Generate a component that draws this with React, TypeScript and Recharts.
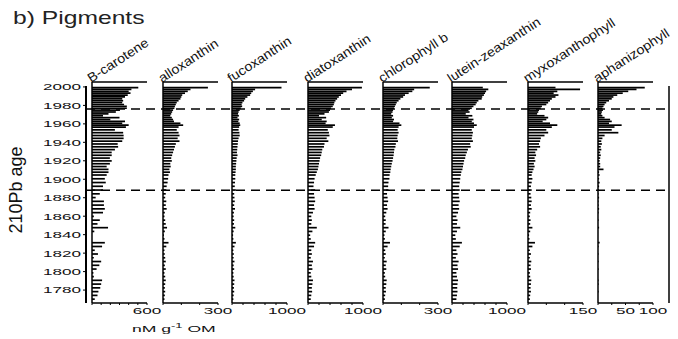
import React from "react";
import { BarChart, Bar, ComposedChart, XAxis, YAxis, ReferenceLine } from "recharts";

// sample ages (210Pb years), top of core first
const years = [
  1995, 1993, 1991, 1989, 1987, 1985, 1983, 1981, 1979, 1977, 1975, 1973, 1971, 1969, 1967, 1965, 1963, 1961, 1959, 1957, 1955, 1953,
  1950, 1947, 1944, 1941, 1938, 1935, 1932, 1929, 1926, 1923, 1920, 1917, 1914, 1911, 1908, 1905, 1902,
  1898, 1894, 1890, 1886, 1882, 1878, 1874, 1870, 1866, 1862, 1858, 1854, 1850, 1846, 1842, 1838, 1834, 1830, 1826, 1822, 1818, 1814, 1810, 1806, 1802, 1798, 1794, 1790, 1786, 1782, 1778, 1774, 1770,
];

// pigment concentrations, nM g-1 OM
const betaCarotene = [
  505, 430, 400, 420, 390, 360, 330, 340, 330, 350, 380, 380, 305, 260, 180, 120, 300, 200, 360, 330, 400, 370,
  250, 340, 345, 345, 330, 280, 285, 250, 215, 215, 195, 215, 195, 160, 180, 180, 160,
  140, 150, 120, 120, 85, 40, 130, 130, 140, 120, 20, 85, 60, 175, 25, 0, 0, 140, 110, 30, 65, 20, 100, 80, 50, 15, 20, 110, 100, 90, 70, 60, 30,
];
const alloxanthin = [
  245, 150, 135, 120, 105, 100, 95, 85, 75, 70, 65, 62, 55, 50, 45, 40, 48, 55, 60, 95, 110, 85,
  75, 85, 90, 80, 90, 70, 65, 60, 55, 50, 45, 48, 40, 42, 35, 38, 30,
  28, 25, 20, 18, 15, 12, 18, 15, 20, 10, 8, 12, 15, 22, 10, 5, 8, 30, 18, 8, 10, 12, 15, 10, 15, 8, 12, 15, 12, 10, 12, 10, 8,
];
const fucoxanthin = [
  900, 420, 380, 350, 330, 280, 240, 220, 190, 175, 185, 160, 140, 120, 110, 125, 100, 130, 115, 140, 150, 130,
  120, 135, 140, 120, 110, 105, 100, 95, 90, 100, 85, 80, 75, 70, 70, 65, 60,
  60, 55, 50, 70, 40, 45, 50, 40, 55, 35, 30, 40, 35, 60, 30, 20, 25, 70, 45, 25, 35, 30, 45, 30, 40, 25, 30, 45, 40, 35, 40, 30, 25,
];
const diatoxanthin = [
  980, 800, 700, 640, 600, 560, 530, 500, 480, 470, 450, 420, 400, 380, 300, 200, 330, 250, 340, 320, 490, 450,
  360, 380, 390, 340, 370, 300, 290, 260, 250, 240, 220, 210, 200, 190, 180, 160, 140,
  120, 110, 100, 130, 110, 120, 130, 110, 120, 90, 60, 70, 60, 160, 80, 40, 50, 130, 110, 60, 70, 50, 90, 70, 80, 50, 60, 90, 80, 70, 75, 60, 50,
];
const chlorophyllB = [
  255, 170, 160, 140, 120, 110, 95, 85, 75, 70, 65, 60, 55, 52, 45, 55, 48, 60, 55, 90, 100, 85,
  80, 85, 80, 78, 82, 70, 68, 62, 60, 58, 55, 52, 48, 45, 42, 40, 36,
  35, 30, 28, 30, 22, 25, 28, 22, 25, 18, 12, 15, 14, 30, 15, 8, 10, 38, 25, 12, 15, 10, 20, 15, 18, 10, 12, 20, 18, 15, 16, 12, 10,
];
const luteinZeaxanthin = [
  560, 660, 620, 600, 580, 550, 540, 480, 450, 430, 390, 360, 300, 320, 250, 370, 300, 390, 360, 400, 450, 400,
  360, 380, 370, 360, 380, 330, 340, 290, 270, 250, 240, 220, 210, 200, 190, 170, 160,
  150, 140, 130, 140, 120, 130, 140, 120, 130, 110, 80, 100, 90, 150, 90, 60, 70, 180, 140, 80, 100, 70, 120, 100, 110, 80, 90, 110, 100, 95, 100, 90, 80,
];
const myxoxanthophyll = [
  75, 142, 80, 70, 83, 75, 65, 60, 55, 50, 38, 35, 30, 28, 25, 45, 55, 50, 40, 60, 80, 65,
  50, 55, 45, 35, 33, 30, 33, 25, 20, 22, 18, 20, 16, 18, 15, 12, 10,
  12, 10, 8, 10, 7, 9, 10, 8, 10, 6, 5, 7, 6, 12, 6, 3, 4, 19, 12, 5, 8, 5, 9, 7, 8, 5, 6, 9, 8, 7, 8, 6, 5,
];
const aphanizophyll = [
  85, 70, 55, 45, 35, 28, 25, 20, 15, 12, 10, 8, 9, 7, 6, 8, 12, 22, 25, 20, 43, 30,
  25, 37, 12, 8, 6, 7, 5, 6, 4, 5, 4, 3, 4, 4, 10, 2, 3,
  2, 3, 2, 2, 1, 2, 1, 1, 2, 1, 0, 1, 0, 2, 0, 0, 0, 3, 1, 0, 1, 0, 1, 0, 1, 0, 0, 1, 1, 0, 1, 0, 0,
];

const pigmentNames = ["B-carotene", "alloxanthin", "fucoxanthin", "diatoxanthin", "chlorophyll b", "lutein-zeaxanthin", "myxoxanthophyll", "aphanizophyll"];
const pigmentKeys = ["bcar", "allo", "fuco", "diato", "chlb", "lutz", "myxo", "aphan"];
const axisMax = [600, 300, 1000, 1000, 300, 1000, 150, 100];
const tickStep = [100, 100, 200, 200, 100, 200, 50, 25];
const axisLabels = [[600], [300], [1000], [1000], [300], [1000], [150], [50, 100]];
const yearTicks = [1780, 1800, 1820, 1840, 1860, 1880, 1900, 1920, 1940, 1960, 1980, 2000];
const markerYears = [1976, 1888];

// layout
const panelLeft = [92, 163, 232, 308, 383, 452, 528, 598];
const PANEL_W = 55;
const PLOT_TOP = 86;
const PLOT_BOTTOM = 303;
const AGE_DOMAIN: [number, number] = [1766, 2001];
const FONT = "'Liberation Sans', Arial, sans-serif";

const series = [betaCarotene, alloxanthin, fucoxanthin, diatoxanthin, chlorophyllB, luteinZeaxanthin, myxoxanthophyll, aphanizophyll];
const rows = years.map((year, i) => {
  const row: any = { year };
  pigmentKeys.forEach((k, p) => (row[k] = series[p][i]));
  return row;
});

function YearTick(props: any) {
  const { x, y, payload } = props;
  return (
    <text transform={`translate(${x},${y}) scale(1.8,1)`} textAnchor="end" dy="0.36em" fontSize={9.5} fontFamily={FONT} fill="#111">
      {payload.value}
    </text>
  );
}

const emptyTick = () => <g />;

function bottomTick(labels: number[]) {
  return (props: any) => {
    const { x, y, payload } = props;
    if (!labels.includes(payload.value)) return <g />;
    return (
      <text transform={`translate(${x},${y}) scale(1.8,1)`} textAnchor="middle" dy="0.71em" fontSize={9.5} fontFamily={FONT} fill="#111">
        {payload.value}
      </text>
    );
  };
}

function PigmentPanel({ index }: { index: number }) {
  const max = axisMax[index];
  const ticks: number[] = [];
  for (let v = 0; v <= max; v += tickStep[index]) ticks.push(v);
  const line = { stroke: "#000", strokeWidth: 1.5 };
  return (
    <div style={{ position: "absolute", left: panelLeft[index] - 12, top: 0 }}>
      <BarChart
        width={12 + PANEL_W + 20}
        height={339}
        data={rows}
        layout="vertical"
        margin={{ top: PLOT_TOP - 4, right: 20, bottom: 339 - PLOT_BOTTOM - 20, left: 11 }}
      >
        <XAxis xAxisId="top" orientation="top" type="number" domain={[0, max]} ticks={ticks} interval={0} height={4} mirror tickSize={2} tick={emptyTick} axisLine={line} tickLine={{ stroke: "#000" }} />
        <XAxis xAxisId="bottom" orientation="bottom" type="number" domain={[0, max]} ticks={ticks} interval={0} height={20} tickSize={2} tickMargin={2} tick={bottomTick(axisLabels[index])} axisLine={line} tickLine={{ stroke: "#000" }} />
        <YAxis type="number" dataKey="year" domain={AGE_DOMAIN} reversed width={1} tick={false} tickLine={false} axisLine={line} />
        <Bar xAxisId="bottom" dataKey={pigmentKeys[index]} fill="#000" barSize={2} isAnimationActive={false} />
      </BarChart>
    </div>
  );
}

export default function App() {
  return (
    <div style={{ position: "absolute", left: 0, top: 0, width: 678, height: 339, background: "#fff", overflow: "hidden" }}>
      <div style={{ position: "absolute", left: 0, top: 0 }}>
        <ComposedChart width={678} height={339} data={rows} margin={{ top: PLOT_TOP, right: 5, bottom: 339 - PLOT_BOTTOM, left: 40 }}>
          <XAxis type="number" hide domain={[0, 1]} />
          <YAxis
            yAxisId="l"
            type="number"
            dataKey="year"
            domain={AGE_DOMAIN}
            ticks={yearTicks}
            interval={0}
            width={46}
            tickSize={3}
            tick={<YearTick />}
            axisLine={{ stroke: "#000", strokeWidth: 2 }}
            tickLine={{ stroke: "#000" }}
          />
          <YAxis yAxisId="r" orientation="right" type="number" domain={AGE_DOMAIN} width={4} tick={emptyTick} tickLine={false} axisLine={{ stroke: "#000", strokeWidth: 1.5 }} />
          {markerYears.map((yr) => (
            <ReferenceLine key={yr} yAxisId="l" y={yr} stroke="#000" strokeWidth={1.5} strokeDasharray="9 6" />
          ))}
        </ComposedChart>
      </div>
      {pigmentNames.map((_, i) => (
        <PigmentPanel key={i} index={i} />
      ))}
      <svg width={678} height={339} style={{ position: "absolute", left: 0, top: 0, pointerEvents: "none" }}>
        <text transform="translate(13,24) scale(1.37,1)" fontSize={18} fontFamily={FONT} fill="#222">
          b) Pigments
        </text>
        <text transform="translate(22,190) rotate(-90)" textAnchor="middle" fontSize={18} fontFamily={FONT} fill="#111">
          210Pb age
        </text>
        {pigmentNames.map((name, i) => (
          <text key={name} transform={`translate(${panelLeft[i] - 1},83) rotate(-33) scale(1.1,1)`} fontSize={13} fontFamily={FONT} fill="#111">
            {name}
          </text>
        ))}
        <text transform="translate(132,332) scale(1.85,1)" fontSize={9.5} fontFamily={FONT} fill="#111">
          nM g<tspan dy={-4} fontSize={7}>-1</tspan>
          <tspan dy={4} fontSize={9.5}> OM</tspan>
        </text>
      </svg>
    </div>
  );
}
